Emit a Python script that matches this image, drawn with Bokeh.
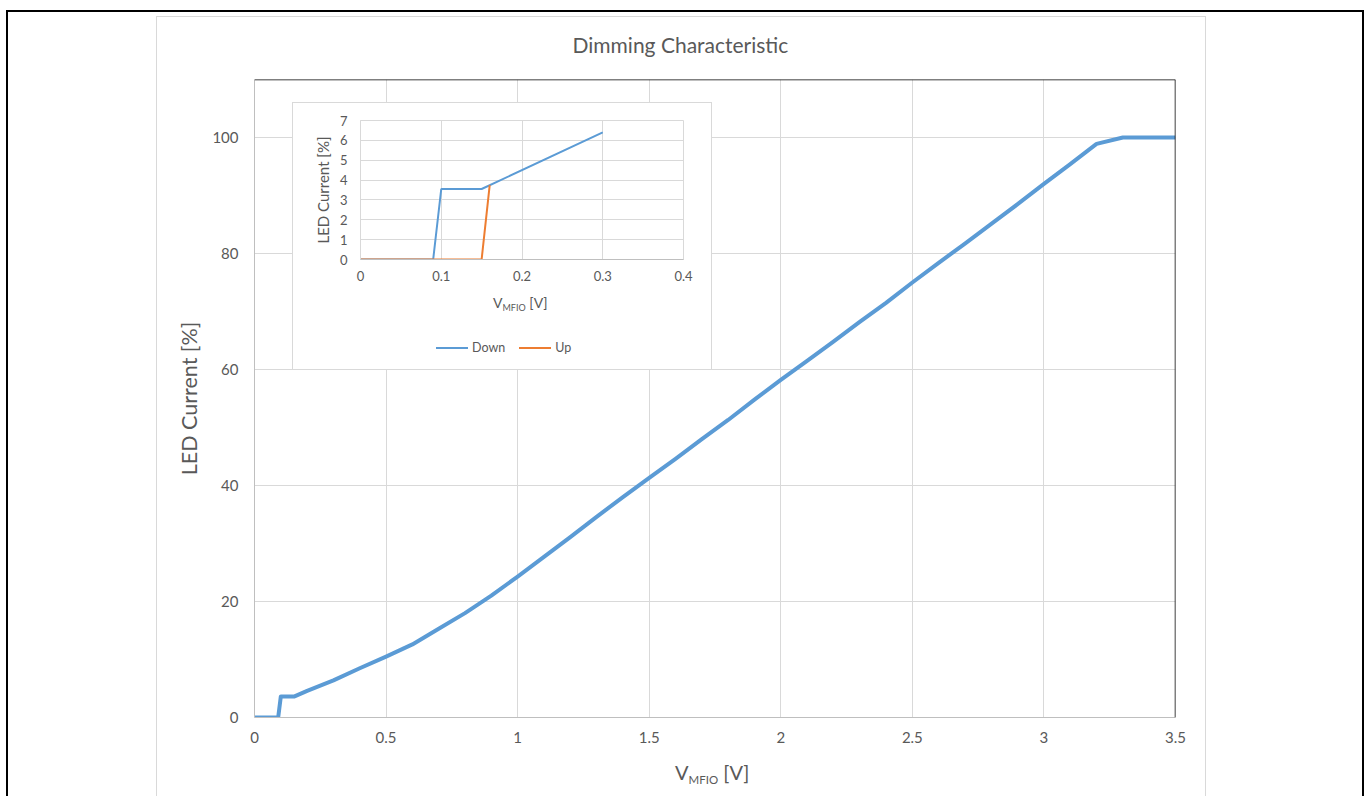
from bokeh.plotting import figure
from bokeh.models import (Range1d, FixedTicker, Span, GridBox,
                          NumeralTickFormatter, Div)
from bokeh.embed import file_html
from bokeh.resources import INLINE

# ---------------- data ----------------
main_x = [0, 0.09, 0.1, 0.15, 0.2, 0.3, 0.4, 0.5, 0.6, 0.7, 0.8, 0.9, 1.0,
          1.1, 1.2, 1.3, 1.4, 1.5, 1.6, 1.7, 1.8, 1.9, 2.0, 2.1, 2.2, 2.3,
          2.4, 2.5, 2.6, 2.7, 2.8, 2.9, 3.0, 3.1, 3.2, 3.3, 3.4, 3.5]
main_y = [0, 0, 3.6, 3.6, 4.6, 6.4, 8.5, 10.5, 12.6, 15.3, 18.0, 21.0, 24.3,
          27.7, 31.1, 34.6, 38.0, 41.3, 44.6, 48.0, 51.3, 54.8, 58.2, 61.5,
          64.8, 68.2, 71.5, 75.0, 78.4, 81.7, 85.1, 88.5, 92.0, 95.4, 98.9,
          100, 100, 100]

down_x = [0, 0.09, 0.1, 0.15, 0.3]
down_y = [0, 0, 3.55, 3.55, 6.4]
up_x = [0, 0.15, 0.16]
up_y = [0, 0, 3.75]

main_x_ticks = [0, 0.5, 1, 1.5, 2, 2.5, 3, 3.5]
main_y_ticks = [0, 20, 40, 60, 80, 100]
inset_x_ticks = [0, 0.1, 0.2, 0.3, 0.4]
inset_y_ticks = [0, 1, 2, 3, 4, 5, 6, 7]

title_text = "Dimming Characteristic"
y_title = "LED Current [%]"
x_title_main = "V"
x_title_sub = "MFIO"
x_title_unit = "[V]"
series_names = ["Down", "Up"]

# ---------------- styles ----------------
FONT = "Lato"
TXT = "#595959"
GRID = "#d9d9d9"
AXIS = "#bfbfbf"
BLUE = "#5b9bd5"
ORANGE = "#ed7d31"
series_colors = [BLUE, ORANGE]

W, H = 1366, 796
# inset box (page px)
IX, IY, IW, IH = 292, 102, 420, 268

# ---------------- main chart ----------------
p = figure(width=W, height=H, x_range=Range1d(0, 3.5), y_range=Range1d(0, 110),
           min_border_left=254, min_border_right=W - 1175, min_border_top=79,
           min_border_bottom=H - 717, toolbar_location=None, output_backend="svg",
           border_fill_color="white", background_fill_color="white",
           outline_line_color=None, title=title_text)
p.title.align = "left"
p.title.offset = 318
p.title.standoff = 45
p.title.text_font = FONT
p.title.text_font_size = "21px"
p.title.text_font_style = "normal"
p.title.text_color = TXT

p.xaxis.ticker = FixedTicker(ticks=main_x_ticks)
p.yaxis.ticker = FixedTicker(ticks=main_y_ticks)
p.xaxis.formatter = NumeralTickFormatter(format="0.[0]")
p.yaxis.formatter = NumeralTickFormatter(format="0")
p.axis.axis_line_color = AXIS
p.axis.major_tick_line_color = None
p.axis.minor_tick_line_color = None
p.axis.major_tick_out = 0
p.axis.major_tick_in = 0
p.axis.major_label_text_font = FONT
p.axis.major_label_text_font_size = "15px"
p.axis.major_label_text_color = TXT
p.xaxis.major_label_standoff = 14
p.yaxis.major_label_standoff = 16
p.yaxis.axis_label = y_title
p.yaxis.axis_label_text_font = FONT
p.yaxis.axis_label_text_font_size = "21.5px"
p.yaxis.axis_label_text_font_style = "normal"
p.yaxis.axis_label_text_color = TXT
p.yaxis.axis_label_standoff = 7
p.grid.grid_line_color = GRID
p.add_layout(Span(location=110, dimension="width", line_color="black", line_width=1.5))
p.add_layout(Span(location=3.5, dimension="height", line_color="black", line_width=1.5))
p.line(main_x, main_y, line_color=BLUE, line_width=4, line_join="round")

# ---------------- inset chart ----------------
ins = figure(width=IW, height=IH, x_range=Range1d(0, 0.4), y_range=Range1d(0, 7),
             min_border_left=68, min_border_right=29, min_border_top=18,
             min_border_bottom=111, toolbar_location=None, output_backend="svg",
             border_fill_color="white", background_fill_color="white",
             outline_line_color=GRID,
             styles={"outline": "1px solid #d9d9d9", "outline-offset": "-1px"})
ins.xaxis.ticker = FixedTicker(ticks=inset_x_ticks)
ins.yaxis.ticker = FixedTicker(ticks=inset_y_ticks)
ins.xaxis.formatter = NumeralTickFormatter(format="0.[0]")
ins.yaxis.formatter = NumeralTickFormatter(format="0")
ins.xaxis.axis_line_color = AXIS
ins.yaxis.axis_line_color = GRID
ins.axis.major_tick_line_color = None
ins.axis.minor_tick_line_color = None
ins.axis.major_tick_out = 0
ins.axis.major_tick_in = 0
ins.axis.major_label_text_font = FONT
ins.axis.major_label_text_font_size = "13px"
ins.axis.major_label_text_color = TXT
ins.xaxis.major_label_standoff = 11
ins.yaxis.major_label_standoff = 13
ins.yaxis.axis_label = y_title
ins.yaxis.axis_label_text_font = FONT
ins.yaxis.axis_label_text_font_size = "15px"
ins.yaxis.axis_label_text_font_style = "normal"
ins.yaxis.axis_label_text_color = TXT
ins.yaxis.axis_label_standoff = 5
ins.grid.grid_line_color = GRID

ins.line(down_x, down_y, line_color=series_colors[0], line_width=2)
ins.line(up_x, up_y, line_color=series_colors[1], line_width=2)

# ---------------- overlay: outer frames, subscripted axis titles, inset legend ----------------
def x_title(left, top, size, sub_size, sub_drop):
    return (f'<div style="position:absolute;left:{left}px;top:{top}px;'
            f'font-size:{size}px;line-height:{size}px;white-space:nowrap">'
            f'{x_title_main}<span style="font-size:{sub_size}px;position:relative;'
            f'top:{sub_drop}px">{x_title_sub}</span> {x_title_unit}</div>')


def legend_html(left, top):
    items = []
    for name, col in zip(series_names, series_colors):
        items.append(
            f'<span style="display:inline-block;width:32px;height:2.5px;'
            f'background:{col};vertical-align:middle;margin-right:4px"></span>'
            f'<span style="vertical-align:middle;margin-right:14px">{name}</span>')
    return (f'<div style="position:absolute;left:{left}px;top:{top}px;'
            f'font-size:12.5px;line-height:20px;white-space:nowrap">'
            + "".join(items) + '</div>')


overlay_html = (
    f'<div style="position:relative;width:{W}px;height:{H}px;pointer-events:none;'
    f'font-family:{FONT};color:{TXT}">'
    f'<div style="position:absolute;left:6px;top:10px;width:1358px;height:{H - 10}px;'
    f'border:2px solid black;border-bottom:none;box-sizing:border-box"></div>'
    f'<div style="position:absolute;left:156px;top:16px;width:1050px;height:{H - 16}px;'
    f'border:1px solid {GRID};border-bottom:none;box-sizing:border-box"></div>'
    f'<div style="position:absolute;left:{IX}px;top:{IY}px;width:{IW}px;height:{IH}px;'
    f'border:1px solid {GRID};box-sizing:border-box"></div>'
    + x_title(675, 762, 20, 11.5, 4)
    + x_title(493, 296, 14, 9, 3)
    + legend_html(436, 337)
    + '</div>'
)
overlay = Div(text=overlay_html, width=W, height=H, margin=0)

layout = GridBox(children=[(p, 0, 0, 3, 3), (ins, 1, 1), (overlay, 0, 0, 3, 3)],
                 cols=[f"{IX}px", f"{IW}px", f"{W - IX - IW}px"],
                 rows=[f"{IY}px", f"{IH}px", f"{H - IY - IH}px"])

open("out.html", "w").write(file_html(layout, INLINE))
